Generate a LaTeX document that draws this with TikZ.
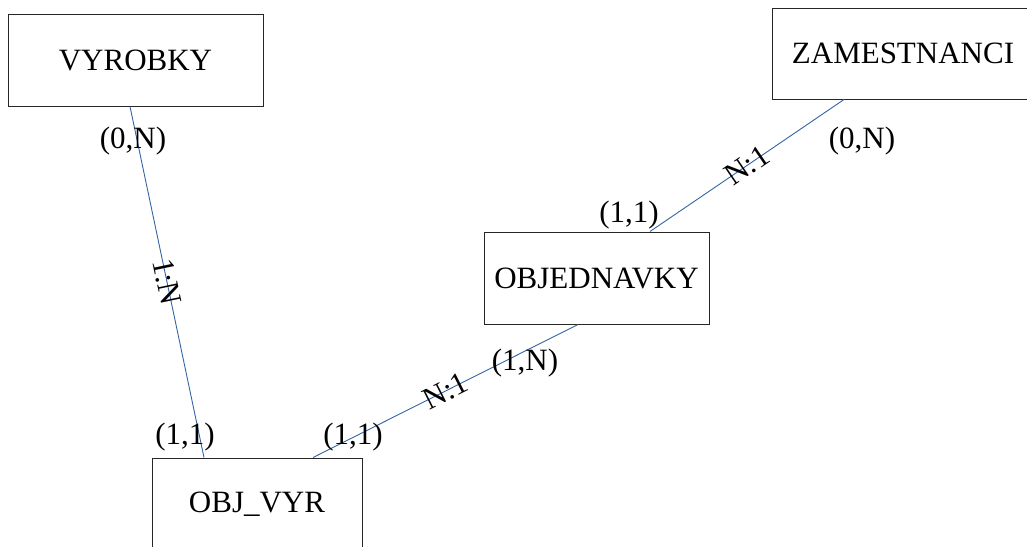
\documentclass[tikz,border=0pt]{standalone}
\usepackage{fontspec}
\setmainfont{Liberation Serif}
\usetikzlibrary{calc}
\definecolor{linkblue}{HTML}{3465A4}
\tikzset{
  entity/.style={draw=black!85, line width=1pt, rectangle, inner sep=0pt, minimum height=92pt,
                 font=\fontsize{31}{36}\selectfont},
  card/.style={inner sep=0pt, font=\fontsize{31}{36}\selectfont},
  rel/.style={draw=linkblue, line width=0.9pt},
  rellabel/.style={sloped, inner sep=0pt, font=\fontsize{31}{36}\selectfont}
}
\begin{document}
\begin{tikzpicture}[x=1pt,y=-1pt]
\useasboundingbox (0,0) rectangle (1027,546);
\node[entity, minimum width=255pt] (vyr) at (135.5,60) {VYROBKY};
\node[entity, minimum width=262pt, minimum height=91pt] (zam) at (903,53.5) {ZAMESTNANCI};
\node[entity, minimum width=225pt] (obj) at (596.5,278) {OBJEDNAVKY};
\node[entity, minimum width=210pt] (ov) at (257,504) {OBJ\_VYR};

\draw[rel] ([xshift=-5.5pt]vyr.south) -- node[rellabel, pos=0.5] {1:N} ([xshift=-53pt]ov.north);
\draw[rel] ([xshift=-18.5pt]obj.south) -- node[rellabel, pos=0.5] {N:1} ([xshift=56pt]ov.north);
\draw[rel] ([xshift=-59pt]zam.south) -- node[rellabel, pos=0.5] {N:1} ([xshift=53.5pt]obj.north);

\node[card] (c1) at (133,141) {(0,N)};
\node[card] (c2) at (862,141) {(0,N)};
\node[card] (c3) at (185,437) {(1,1)};
\node[card] (c4) at (353,437) {(1,1)};
\node[card] (c5) at (525,363) {(1,N)};
\node[card] (c6) at (629,215) {(1,1)};
\end{tikzpicture}
\end{document}
